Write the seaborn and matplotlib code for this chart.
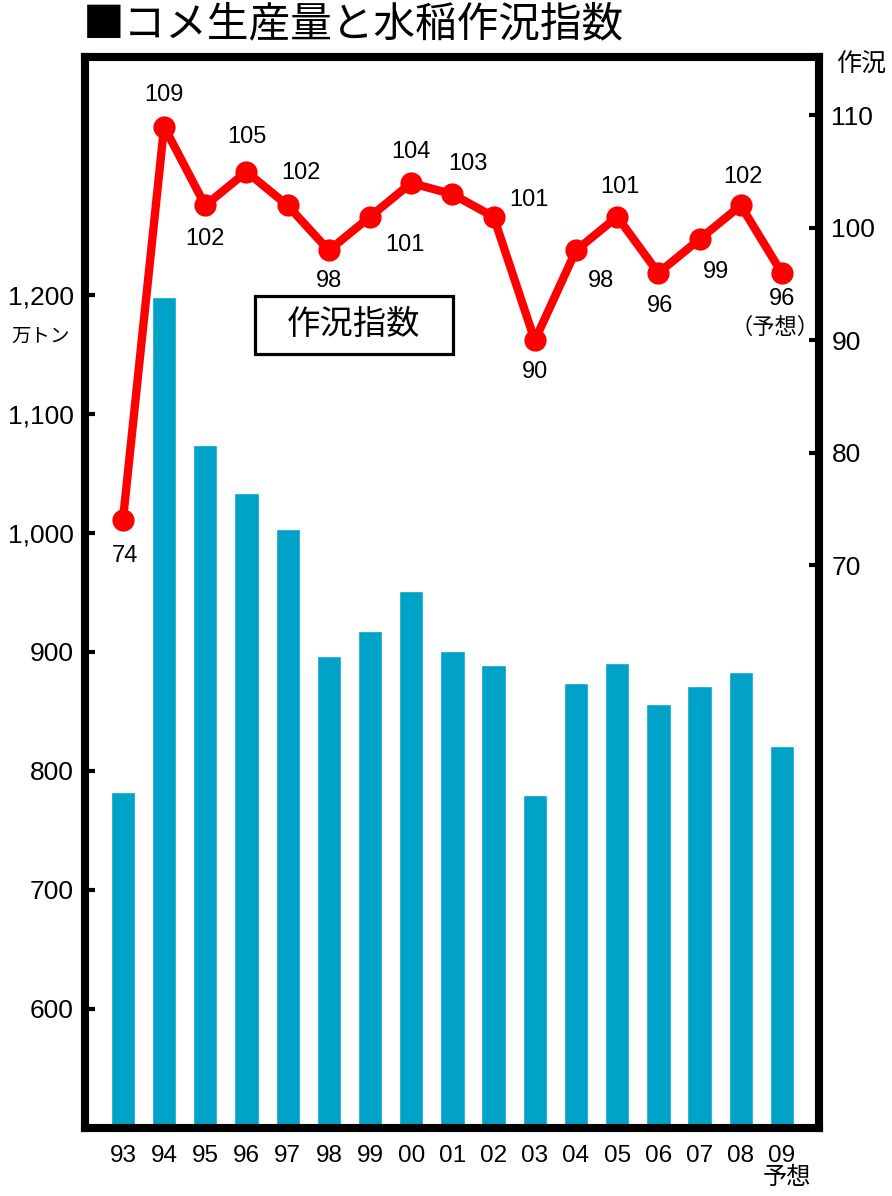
import matplotlib
matplotlib.use("Agg")
import matplotlib.pyplot as plt
import seaborn as sns
import pandas as pd
from matplotlib.patches import Rectangle

sns.set_style("white")
JP = ["Noto Sans CJK JP", "DejaVu Sans"]
NUM = ["Liberation Sans", "Noto Sans CJK JP", "DejaVu Sans"]
plt.rcParams["font.family"] = JP
plt.rcParams["text.color"] = "black"
plt.rcParams["xtick.color"] = "black"
plt.rcParams["ytick.color"] = "black"
plt.rcParams["axes.labelcolor"] = "black"

years = ["93", "94", "95", "96", "97", "98", "99", "00", "01", "02", "03", "04", "05", "06", "07", "08", "09"]
production = [782, 1198, 1074, 1034, 1003, 897, 918, 951, 901, 889, 780, 874, 891, 856, 871, 883, 821]
crop_index = [74, 109, 102, 105, 102, 98, 101, 104, 103, 101, 90, 98, 101, 96, 99, 102, 96]
left_ticks = [600, 700, 800, 900, 1000, 1100, 1200]
left_tick_labels = ["600", "700", "800", "900", "1,000", "1,100", "1,200"]
right_ticks = [70, 80, 90, 100, 110]

# label offsets in pixels (dx, dy; dy positive = up) -- styling only
label_offsets = [(2, -36), (0, 32), (0, -34), (0, 35), (13, 32), (0, -31), (35, -28),
                 (0, 31), (16, 30), (35, 17), (0, -32), (25, -31), (3, 30), (2, -33),
                 (16, -33), (2, 28), (0, -26)]

df = pd.DataFrame({"year": years, "production": production, "index": crop_index})

fig = plt.figure(figsize=(8.92, 11.96), dpi=100)
ax = fig.add_axes([0.09529, 0.05686, 0.82287, 0.8955])

sns.barplot(data=df, x="year", y="production", color="#00A2C7", width=0.59,
            saturation=1, ax=ax, zorder=2)
ax.set_ylim(500, 1400)
ax.set_xlim(-0.92, 16.9)
ax.set_yticks(left_ticks)
ax.set_yticklabels(left_tick_labels, family=NUM, fontsize=19, color="black")
ax.set_xticks(range(len(years)))
ax.set_xticklabels(years, family=NUM, fontsize=17.5, color="black")
ax.set_xlabel("")
ax.set_ylabel("")
ax.tick_params(axis="y", direction="in", length=7, width=3, pad=8, color="black")
ax.tick_params(axis="x", length=0, pad=12)
for s in ax.spines.values():
    s.set_linewidth(5.8)
    s.set_color("black")

ax2 = ax.twinx()
x_pos = list(range(len(years)))
sns.lineplot(x=x_pos, y=crop_index, ax=ax2, color="#FF0000", linewidth=6,
             marker="o", markersize=16, markeredgewidth=0, zorder=3)
ax2.set_ylim(20, 115.2)
ax2.set_yticks(right_ticks)
ax2.set_yticklabels([str(t) for t in right_ticks], family=NUM, fontsize=19, color="black")
ax2.tick_params(axis="y", direction="in", length=7, width=3, pad=9, color="black")
for s in ax2.spines.values():
    s.set_linewidth(5.8)
    s.set_color("black")
ax2.set_xlim(-0.92, 16.9)

for i, (v, (dx, dy)) in enumerate(zip(crop_index, label_offsets)):
    ax2.annotate(str(v), (i, v), xytext=(dx, dy), textcoords="offset pixels",
                 ha="center", va="center", family=NUM, fontsize=17, color="black")
ax2.annotate("（予想）", (16, crop_index[-1]), xytext=(-7, -54), textcoords="offset pixels",
             ha="center", va="center", fontsize=16, color="black")

# legend-like box
ax2.add_patch(Rectangle((0.2316, 0.7227), 0.2698, 0.0542, transform=ax2.transAxes,
                        fc="white", ec="black", lw=2.3, zorder=5))
ax2.text(0.3665, 0.7498, "作況指数", transform=ax2.transAxes, ha="center", va="center",
         fontsize=24, zorder=6, color="black")

fig.text(0.093, 0.979, "■コメ生産量と水稲作況指数", ha="left", va="center",
         fontsize=30, fontweight="regular", color="black")
fig.text(0.045, 0.719, "万トン", ha="center", va="center", fontsize=14, color="black")
fig.text(0.965, 0.9455, "作況", ha="center", va="center", fontsize=18, color="black")
fig.text(0.882, 0.0155, "予想", ha="center", va="center", fontsize=17.5, color="black")

fig.savefig("out.png", dpi=100, facecolor="white")
